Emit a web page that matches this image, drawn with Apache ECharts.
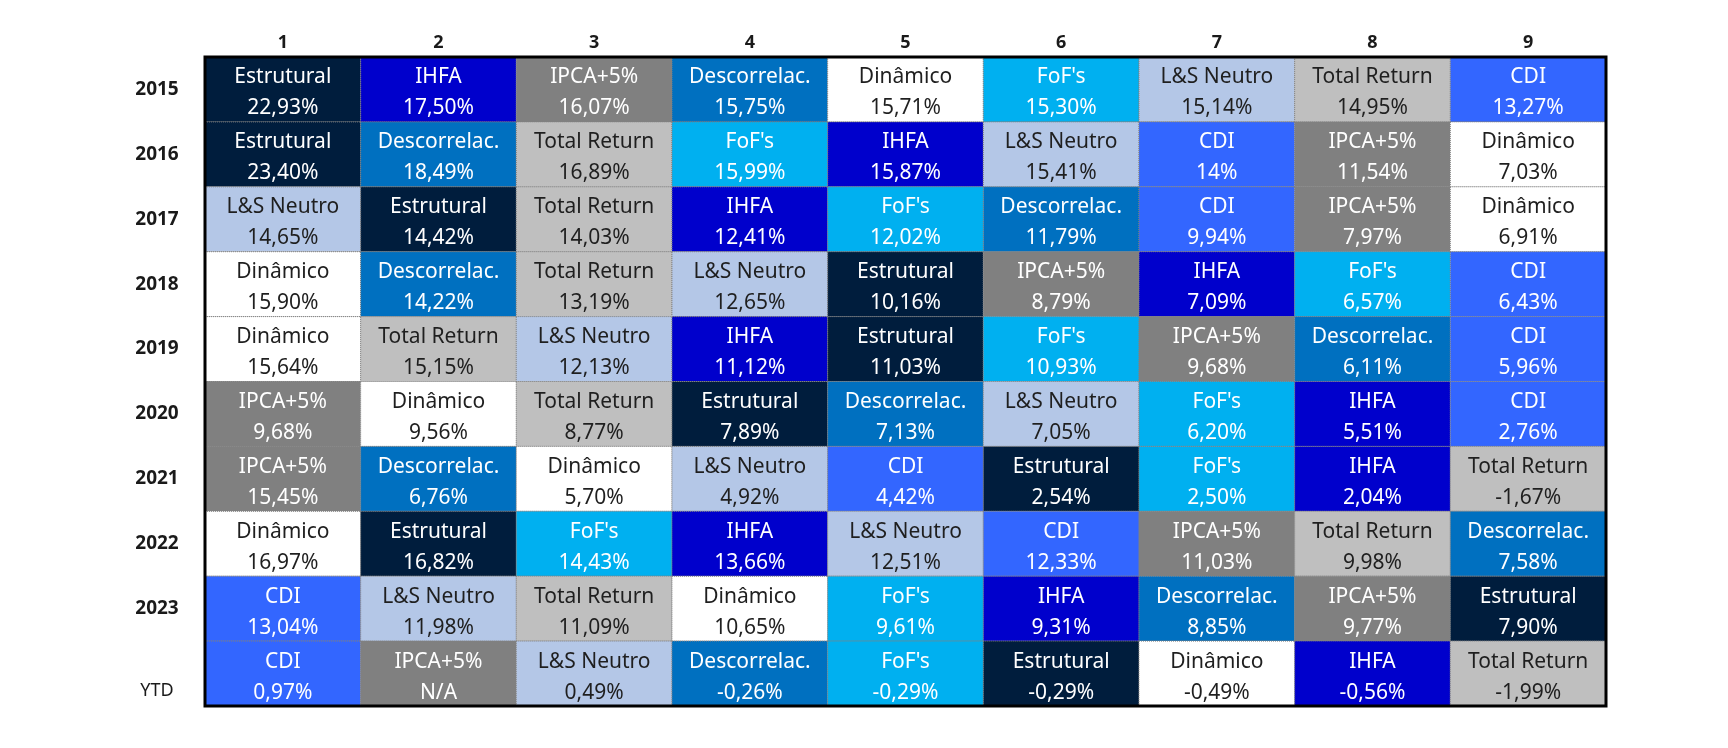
<!DOCTYPE html>
<html>
<head>
<meta charset="utf-8">
<script src="https://cdn.jsdelivr.net/npm/echarts@6/dist/echarts.min.js"></script>
<style>
html,body{margin:0;padding:0;background:#fff;}
#chart{width:1728px;height:748px;}
</style>
</head>
<body>
<div id="chart"></div>
<script>
var ranks = ['1','2','3','4','5','6','7','8','9'];
var years = ['2015','2016','2017','2018','2019','2020','2021','2022','2023','YTD'];

var names2015 = ['Estrutural','IHFA','IPCA+5%','Descorrelac.','Dinâmico',"FoF's",'L&S Neutro','Total Return','CDI'];
var values2015 = ['22,93%','17,50%','16,07%','15,75%','15,71%','15,30%','15,14%','14,95%','13,27%'];
var names2016 = ['Estrutural','Descorrelac.','Total Return',"FoF's",'IHFA','L&S Neutro','CDI','IPCA+5%','Dinâmico'];
var values2016 = ['23,40%','18,49%','16,89%','15,99%','15,87%','15,41%','14%','11,54%','7,03%'];
var names2017 = ['L&S Neutro','Estrutural','Total Return','IHFA',"FoF's",'Descorrelac.','CDI','IPCA+5%','Dinâmico'];
var values2017 = ['14,65%','14,42%','14,03%','12,41%','12,02%','11,79%','9,94%','7,97%','6,91%'];
var names2018 = ['Dinâmico','Descorrelac.','Total Return','L&S Neutro','Estrutural','IPCA+5%','IHFA',"FoF's",'CDI'];
var values2018 = ['15,90%','14,22%','13,19%','12,65%','10,16%','8,79%','7,09%','6,57%','6,43%'];
var names2019 = ['Dinâmico','Total Return','L&S Neutro','IHFA','Estrutural',"FoF's",'IPCA+5%','Descorrelac.','CDI'];
var values2019 = ['15,64%','15,15%','12,13%','11,12%','11,03%','10,93%','9,68%','6,11%','5,96%'];
var names2020 = ['IPCA+5%','Dinâmico','Total Return','Estrutural','Descorrelac.','L&S Neutro',"FoF's",'IHFA','CDI'];
var values2020 = ['9,68%','9,56%','8,77%','7,89%','7,13%','7,05%','6,20%','5,51%','2,76%'];
var names2021 = ['IPCA+5%','Descorrelac.','Dinâmico','L&S Neutro','CDI','Estrutural',"FoF's",'IHFA','Total Return'];
var values2021 = ['15,45%','6,76%','5,70%','4,92%','4,42%','2,54%','2,50%','2,04%','-1,67%'];
var names2022 = ['Dinâmico','Estrutural',"FoF's",'IHFA','L&S Neutro','CDI','IPCA+5%','Total Return','Descorrelac.'];
var values2022 = ['16,97%','16,82%','14,43%','13,66%','12,51%','12,33%','11,03%','9,98%','7,58%'];
var names2023 = ['CDI','L&S Neutro','Total Return','Dinâmico',"FoF's",'IHFA','Descorrelac.','IPCA+5%','Estrutural'];
var values2023 = ['13,04%','11,98%','11,09%','10,65%','9,61%','9,31%','8,85%','9,77%','7,90%'];
var namesYTD = ['CDI','IPCA+5%','L&S Neutro','Descorrelac.',"FoF's",'Estrutural','Dinâmico','IHFA','Total Return'];
var valuesYTD = ['0,97%','N/A','0,49%','-0,26%','-0,29%','-0,29%','-0,49%','-0,56%','-1,99%'];

var rowNames = [names2015,names2016,names2017,names2018,names2019,names2020,names2021,names2022,names2023,namesYTD];
var rowValues = [values2015,values2016,values2017,values2018,values2019,values2020,values2021,values2022,values2023,valuesYTD];

var fundColors = {
  'Estrutural':'#001D3D',
  'IHFA':'#0000CC',
  'IPCA+5%':'#808080',
  'Descorrelac.':'#0070C0',
  'Dinâmico':'#FFFFFF',
  "FoF's":'#00B0F0',
  'L&S Neutro':'#B4C7E7',
  'Total Return':'#BFBFBF',
  'CDI':'#3366FF'
};
var darkText = {'Dinâmico':1,'L&S Neutro':1,'Total Return':1};

var cells = [];
for (var r = 0; r < years.length; r++) {
  for (var c = 0; c < ranks.length; c++) {
    cells.push([c, r, rowNames[r][c], rowValues[r][c]]);
  }
}

var FONT = '"Noto Sans", "DejaVu Sans", sans-serif';

var chart = echarts.init(document.getElementById('chart'));
chart.setOption({
  backgroundColor: '#ffffff',
  animation: false,
  grid: {left: 205, right: 122, top: 57, bottom: 42},
  xAxis: {
    type: 'category', data: ranks, position: 'top',
    axisLine: {show: false}, axisTick: {show: false}, splitLine: {show: false},
    axisLabel: {fontFamily: FONT, fontSize: 18, fontWeight: 'bold', color: '#1a1a1a', margin: 5}
  },
  yAxis: {
    type: 'category', data: years, inverse: true,
    axisLine: {show: false}, axisTick: {show: false}, splitLine: {show: false},
    axisLabel: {
      fontFamily: FONT, fontSize: 19, fontWeight: 'bold', color: '#1a1a1a', margin: 48, align: 'center',
      formatter: function (v) { return v === 'YTD' ? '{ytd|YTD}' : v; },
      rich: {ytd: {fontFamily: FONT, fontSize: 18, fontWeight: 'normal', color: '#1a1a1a', padding: [34, 0, 0, 0]}}
    }
  },
  series: [{
    type: 'custom',
    data: cells,
    encode: {x: 0, y: 1},
    renderItem: function (params, api) {
      var pt = api.coord([api.value(0), api.value(1)]);
      var sz = api.size([1, 1]);
      var name = rowNames[api.value(1)][api.value(0)];
      var val = rowValues[api.value(1)][api.value(0)];
      var fill = fundColors[name];
      var tc = darkText[name] ? '#1f1f1f' : '#ffffff';
      return {
        type: 'group',
        children: [
          {type: 'rect', shape: {x: pt[0] - sz[0] / 2, y: pt[1] - sz[1] / 2, width: sz[0], height: sz[1]},
           style: {fill: fill, stroke: '#808080', lineWidth: 1, lineDash: [1, 1]}},
          {type: 'text', style: {text: name, x: pt[0], y: pt[1] - 12, align: 'center', verticalAlign: 'middle',
           fill: tc, font: '21px ' + FONT}},
          {type: 'text', style: {text: val, x: pt[0], y: pt[1] + 19, align: 'center', verticalAlign: 'middle',
           fill: tc, font: '21px ' + FONT}}
        ]
      };
    }
  }, {
    type: 'custom',
    data: [[0, 0]],
    encode: {x: 0, y: 1},
    z: 5,
    renderItem: function (params, api) {
      var cs = params.coordSys;
      return {type: 'rect', shape: {x: cs.x, y: cs.y, width: cs.width, height: cs.height},
              style: {fill: 'none', stroke: '#000', lineWidth: 3}};
    }
  }]
});
</script>
</body>
</html>
